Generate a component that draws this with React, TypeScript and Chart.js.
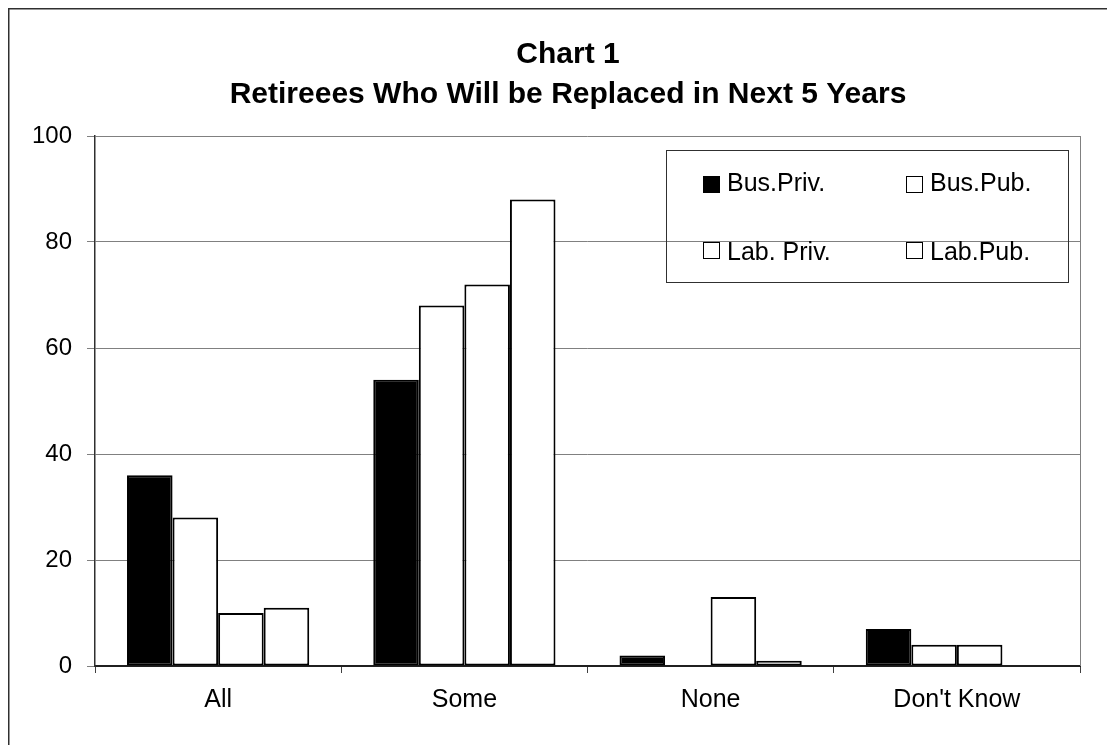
import React, { useEffect, useRef } from "react";
import { Chart, registerables } from "chart.js";

Chart.register(...registerables);

const categories = ["All", "Some", "None", "Don't Know"];
const seriesLabels = ["Bus.Priv.", "Bus.Pub.", "Lab. Priv.", "Lab.Pub."];
const busPriv = [36, 54, 2, 7];
const busPub = [28, 68, 0, 4];
const labPriv = [10, 72, 13, 4];
const labPub = [11, 88, 1, 0];
const titleLines = ["Chart 1", "Retireees Who Will be Replaced in Next 5 Years"];
const yMin = 0;
const yMax = 100;
const yStep = 20;

const FONT = "'Liberation Sans', Arial, Helvetica, sans-serif";
const W = 1120;
const H = 752;

export default function App() {
  const ref = useRef<HTMLCanvasElement | null>(null);

  useEffect(() => {
    if (!ref.current) return;
    const fills = ["#000000", "#ffffff", "#ffffff", "#ffffff"];
    const seriesData = [busPriv, busPub, labPriv, labPub];

    const decor = {
      id: "decor",
      beforeDraw(chart: any) {
        const ctx = chart.ctx;
        ctx.save();
        ctx.fillStyle = "#ffffff";
        ctx.fillRect(0, 0, W, H);
        ctx.restore();
      },
      afterDraw(chart: any) {
        const ctx = chart.ctx;
        const a = chart.chartArea;
        ctx.save();
        // outer frame
        ctx.strokeStyle = "#303030";
        ctx.lineWidth = 1.5;
        ctx.strokeRect(0.75, 0.75, W - 1.5, H - 1.5);
        // right plot border
        ctx.strokeStyle = "#808080";
        ctx.lineWidth = 1;
        ctx.beginPath();
        ctx.moveTo(Math.round(a.right) + 0.5, a.top);
        ctx.lineTo(Math.round(a.right) + 0.5, a.bottom);
        ctx.stroke();
        // title
        ctx.fillStyle = "#000000";
        ctx.font = `bold 30px ${FONT}`;
        ctx.textAlign = "center";
        ctx.textBaseline = "alphabetic";
        ctx.fillText(titleLines[0], 560, 55);
        ctx.fillText(titleLines[1], 560, 95);
        // legend box
        ctx.strokeStyle = "#303030";
        ctx.lineWidth = 1;
        ctx.strokeRect(658.5, 142.5, 402, 132);
        const cols = [695, 898];
        const rows = [168, 234];
        const baselines = [183, 252];
        ctx.font = `25px ${FONT}`;
        ctx.textAlign = "left";
        chart.data.datasets.forEach((ds: any, i: number) => {
          const c = i % 2;
          const r = Math.floor(i / 2);
          const x = cols[c];
          const y = rows[r];
          ctx.fillStyle = ds.backgroundColor;
          ctx.fillRect(x, y, 17, 17);
          ctx.strokeStyle = "#000000";
          ctx.lineWidth = 1;
          ctx.strokeRect(x + 0.5, y + 0.5, 16, 16);
          ctx.fillStyle = "#000000";
          ctx.fillText(ds.label, x + 24, baselines[r]);
        });
        ctx.restore();
      },
    };

    const chart = new Chart(ref.current, {
      type: "bar",
      data: {
        labels: categories,
        datasets: seriesLabels.map((label, i) => ({
          label,
          data: seriesData[i],
          backgroundColor: fills[i],
          borderColor: "#000000",
          borderWidth: 2,
          borderSkipped: false,
          categoryPercentage: 0.74,
          barPercentage: 1.0,
        })),
      },
      options: {
        animation: false,
        responsive: false,
        maintainAspectRatio: false,
        devicePixelRatio: 1,
        layout: { padding: { top: 128, right: 48, left: 0, bottom: 0 } },
        plugins: {
          legend: { display: false },
          title: { display: false },
          tooltip: { enabled: false },
        },
        scales: {
          x: {
            grid: {
              offset: true,
              drawOnChartArea: false,
              drawTicks: true,
              tickLength: 7,
              color: "#404040",
            },
            border: { color: "#202020", width: 2 },
            ticks: {
              color: "#000000",
              font: { family: FONT, size: 25 },
              padding: 12,
              maxRotation: 0,
            },
            afterFit(scale: any) {
              scale.height = 94;
            },
          },
          y: {
            min: yMin,
            max: yMax,
            grid: {
              color: "#808080",
              lineWidth: 1,
              tickLength: 8,
              drawTicks: true,
            },
            border: { color: "#303030", width: 1.5 },
            ticks: {
              stepSize: yStep,
              color: "#000000",
              font: { family: FONT, size: 24 },
              padding: 15,
            },
            afterFit(scale: any) {
              scale.width = 87;
            },
          },
        },
      },
      plugins: [decor],
    });
    return () => chart.destroy();
  }, []);

  return (
    <div style={{ width: 1107, height: 737, overflow: "hidden" }}>
      <canvas ref={ref} width={W} height={H} style={{ width: W, height: H, display: "block" }} />
    </div>
  );
}
